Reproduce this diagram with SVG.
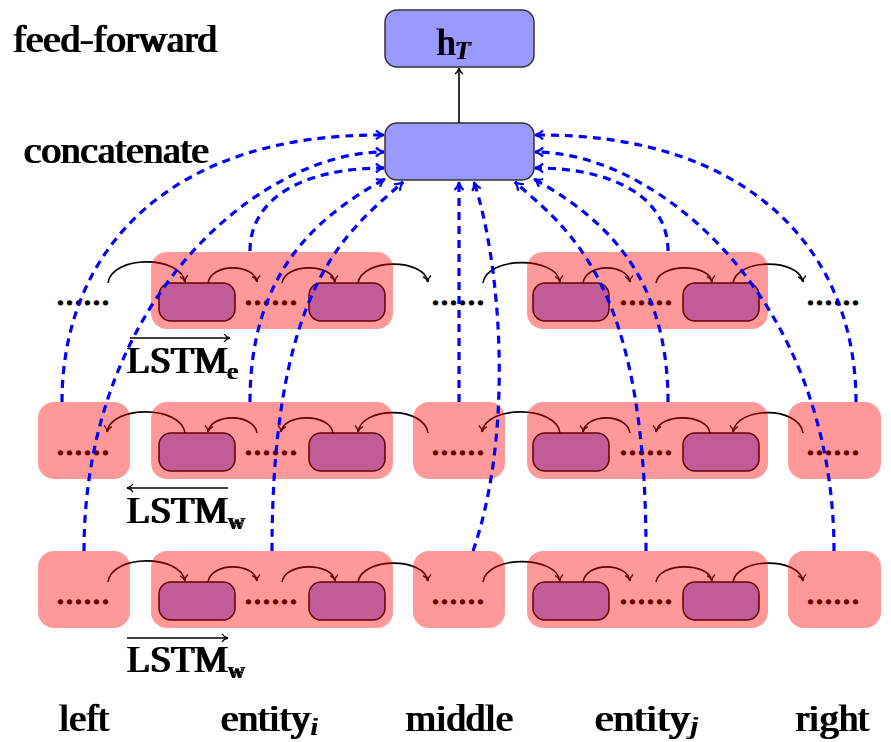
<svg xmlns="http://www.w3.org/2000/svg" width="891" height="742" viewBox="0 0 891 742">
<style>
.lbl{font-family:'Liberation Serif','Times New Roman',serif;font-weight:normal;fill:#000;filter:url(#bold)}
.sub{font-style:italic}
.dots{font-family:'Liberation Serif','Times New Roman',serif;font-weight:normal;font-size:36px;fill:#000;stroke:#000;stroke-width:1.2}
.top{fill:#9999ff;stroke:#333;stroke-width:1.5}
.cell{fill:#9999ff;stroke:#000;stroke-width:1.5}
.grp{fill:#ff0000;fill-opacity:0.4;stroke:none}
.rec{fill:none;stroke:#000;stroke-width:1.6;marker-end:url(#ah)}
.cat{fill:none;stroke:#0000ff;stroke-width:3.2;stroke-dasharray:8 6;marker-end:url(#bh)}
.ov{stroke:#000;stroke-width:1.4}
</style>
<defs>
<filter id="bold" x="-5%" y="-10%" width="110%" height="120%">
<feMorphology operator="dilate" radius="1 0.3"/>
</filter>
<marker id="ah" viewBox="-8 -6 10 12" refX="0" refY="0" markerWidth="10" markerHeight="12" markerUnits="userSpaceOnUse" orient="auto" overflow="visible">
<path d="M-6,-4 C-4.5,-1.6 -1.8,-0.4 0,0 C-1.8,0.4 -4.5,1.6 -6,4" fill="none" stroke="#000" stroke-width="1.4"/>
</marker>
<marker id="bh" viewBox="-10 -7 12 14" refX="0" refY="0" markerWidth="12" markerHeight="14" markerUnits="userSpaceOnUse" orient="auto" overflow="visible">
<path d="M-8,-4.5 C-6,-2 -2,-0.5 0,0 C-2,0.5 -6,2 -8,4.5" fill="none" stroke="#0000ff" stroke-width="2.2"/>
</marker>
<marker id="oh" viewBox="-8 -6 10 12" refX="0" refY="0" markerWidth="10" markerHeight="12" markerUnits="userSpaceOnUse" orient="auto" overflow="visible">
<path d="M-6,-4 C-4.5,-1.6 -1.8,-0.4 0,0 C-1.8,0.4 -4.5,1.6 -6,4" fill="none" stroke="#000" stroke-width="1.3"/>
</marker>
</defs>

<!-- labels -->
<g id="labels">
<text class="lbl" x="13" y="52" font-size="37" textLength="204" lengthAdjust="spacingAndGlyphs">feed-forward</text>
<text class="lbl" x="24" y="163" font-size="37" textLength="185" lengthAdjust="spacingAndGlyphs">concatenate</text>
<g id="lbl-lstm-e">
<line class="ov" x1="130" y1="338" x2="230" y2="338" marker-end="url(#oh)"/>
<text class="lbl" x="127" y="373" font-size="37" textLength="111" lengthAdjust="spacingAndGlyphs">LSTM<tspan font-size="23" dy="6">e</tspan></text>
</g>
<g id="lbl-lstm-w-back">
<line class="ov" x1="228" y1="488" x2="127" y2="488" marker-end="url(#oh)"/>
<text class="lbl" x="127" y="523" font-size="37" textLength="118" lengthAdjust="spacingAndGlyphs">LSTM<tspan font-size="23" dy="6">w</tspan></text>
</g>
<g id="lbl-lstm-w-fwd">
<line class="ov" x1="127" y1="638" x2="228" y2="638" marker-end="url(#oh)"/>
<text class="lbl" x="127" y="672" font-size="37" textLength="118" lengthAdjust="spacingAndGlyphs">LSTM<tspan font-size="23" dy="6">w</tspan></text>
</g>
<text class="lbl" x="59" y="731" font-size="37" textLength="50" lengthAdjust="spacingAndGlyphs">left</text>
<text class="lbl" x="221" y="731" font-size="37" textLength="97" lengthAdjust="spacingAndGlyphs">entity<tspan class="sub" font-size="25" dy="4">i</tspan></text>
<text class="lbl" x="406" y="731" font-size="37" textLength="107" lengthAdjust="spacingAndGlyphs">middle</text>
<text class="lbl" x="595" y="731" font-size="37" textLength="103" lengthAdjust="spacingAndGlyphs">entity<tspan class="sub" font-size="25" dy="3">j</tspan></text>
<text class="lbl" x="796" y="731" font-size="37" textLength="73" lengthAdjust="spacingAndGlyphs">right</text>
</g>

<!-- top nodes -->
<g id="hT">
<rect class="top" x="385" y="10" width="149" height="57" rx="12"/>
<text class="lbl" x="437" y="55" font-size="37">h<tspan class="sub" font-size="25" dy="4">T</tspan></text>
</g>
<g id="concat">
<rect class="top" x="385" y="123" width="149" height="57" rx="12"/>
</g>

<!-- LSTM cells and dots -->
<g id="row1-cells">
<rect class="cell" x="159" y="283" width="76" height="38" rx="12"/>
<rect class="cell" x="309" y="283" width="76" height="38" rx="12"/>
<rect class="cell" x="533" y="283" width="76" height="38" rx="12"/>
<rect class="cell" x="683" y="283" width="76" height="38" rx="12"/>
<text class="dots" x="56" y="305">......</text>
<text class="dots" x="244" y="305">......</text>
<text class="dots" x="431" y="305">......</text>
<text class="dots" x="619" y="305">......</text>
<text class="dots" x="806" y="305">......</text>
</g>
<g id="row2-cells">
<rect class="cell" x="159" y="433" width="76" height="38" rx="12"/>
<rect class="cell" x="309" y="433" width="76" height="38" rx="12"/>
<rect class="cell" x="533" y="433" width="76" height="38" rx="12"/>
<rect class="cell" x="683" y="433" width="76" height="38" rx="12"/>
<text class="dots" x="56" y="455">......</text>
<text class="dots" x="244" y="455">......</text>
<text class="dots" x="431" y="455">......</text>
<text class="dots" x="619" y="455">......</text>
<text class="dots" x="806" y="455">......</text>
</g>
<g id="row3-cells">
<rect class="cell" x="159" y="582" width="76" height="38" rx="12"/>
<rect class="cell" x="309" y="582" width="76" height="38" rx="12"/>
<rect class="cell" x="533" y="582" width="76" height="38" rx="12"/>
<rect class="cell" x="683" y="582" width="76" height="38" rx="12"/>
<text class="dots" x="56" y="604">......</text>
<text class="dots" x="244" y="604">......</text>
<text class="dots" x="431" y="604">......</text>
<text class="dots" x="619" y="604">......</text>
<text class="dots" x="806" y="604">......</text>
</g>

<!-- recurrent connectors -->
<g id="recurrent-connectors">
<path class="rec" d="M108,283 C112,255 180,255 185,282"/>
<path class="rec" d="M208,283 C211,263 254,263 257,282"/>
<path class="rec" d="M282,283 C285,263 332,263 335,282"/>
<path class="rec" d="M358,283 C362,258 424,258 428,282"/>
<path class="rec" d="M483,283 C487,256 556,256 560,282"/>
<path class="rec" d="M583,283 C586,263 627,263 630,282"/>
<path class="rec" d="M656,283 C659,263 709,263 712,282"/>
<path class="rec" d="M733,283 C737,258 799,258 803,282"/>

<path class="rec" d="M428,433 C424,406 362,406 358,432"/>
<path class="rec" d="M333,433 C330,413 284,413 281,432"/>
<path class="rec" d="M257,433 C254,413 211,413 208,432"/>
<path class="rec" d="M185,433 C181,405 111,405 107,432"/>
<path class="rec" d="M803,433 C799,406 737,406 733,432"/>
<path class="rec" d="M710,433 C707,413 659,413 656,432"/>
<path class="rec" d="M630,433 C627,413 586,413 583,432"/>
<path class="rec" d="M560,433 C556,405 486,405 482,432"/>

<path class="rec" d="M108,582 C112,554 180,554 185,581"/>
<path class="rec" d="M208,582 C211,562 254,562 257,581"/>
<path class="rec" d="M282,582 C285,562 332,562 335,581"/>
<path class="rec" d="M358,582 C362,557 424,557 428,581"/>
<path class="rec" d="M483,582 C487,555 556,555 560,581"/>
<path class="rec" d="M583,582 C586,562 627,562 630,581"/>
<path class="rec" d="M656,582 C659,562 709,562 712,581"/>
<path class="rec" d="M733,582 C737,557 799,557 803,581"/>
</g>

<!-- group boxes (semi-transparent overlays) -->
<g id="row1-entity-i"><rect class="grp" x="151" y="252" width="242" height="77" rx="16"/></g>
<g id="row1-entity-j"><rect class="grp" x="527" y="252" width="241" height="77" rx="16"/></g>
<g id="row2-left"><rect class="grp" x="38" y="402" width="92" height="77" rx="16"/></g>
<g id="row2-entity-i"><rect class="grp" x="151" y="402" width="242" height="77" rx="16"/></g>
<g id="row2-middle"><rect class="grp" x="413" y="402" width="92" height="77" rx="16"/></g>
<g id="row2-entity-j"><rect class="grp" x="527" y="402" width="241" height="77" rx="16"/></g>
<g id="row2-right"><rect class="grp" x="788" y="402" width="93" height="77" rx="16"/></g>
<g id="row3-left"><rect class="grp" x="38" y="551" width="92" height="77" rx="16"/></g>
<g id="row3-entity-i"><rect class="grp" x="151" y="551" width="242" height="77" rx="16"/></g>
<g id="row3-middle"><rect class="grp" x="413" y="551" width="92" height="77" rx="16"/></g>
<g id="row3-entity-j"><rect class="grp" x="527" y="551" width="241" height="77" rx="16"/></g>
<g id="row3-right"><rect class="grp" x="788" y="551" width="93" height="77" rx="16"/></g>

<!-- feed-forward connector -->
<g id="ff-connector">
<line x1="459" y1="123" x2="459" y2="68" stroke="#000" stroke-width="1.6" marker-end="url(#ah)"/>
</g>

<!-- concatenation connectors -->
<g id="concat-connectors">
<path class="cat" d="M62,402 C62,250 170,133 384,135"/>
<path class="cat" d="M84,551 C84,300 260,152 384,152"/>
<path class="cat" d="M250,251 C250,200 300,168 384,168"/>
<path class="cat" d="M250,402 C250,270 320,215 385,179"/>
<path class="cat" d="M272,551 C272,280 350,230 403,182"/>
<path class="cat" d="M459,402 L459,182"/>
<path class="cat" d="M473,551 C515,430 500,260 474,182"/>
<path class="cat" d="M856,402 C856,250 748,133 535,135"/>
<path class="cat" d="M834,551 C834,300 658,152 535,152"/>
<path class="cat" d="M668,251 C668,200 618,168 535,168"/>
<path class="cat" d="M668,402 C668,270 598,215 534,179"/>
<path class="cat" d="M646,551 C646,280 568,230 515,182"/>
</g>
</svg>
